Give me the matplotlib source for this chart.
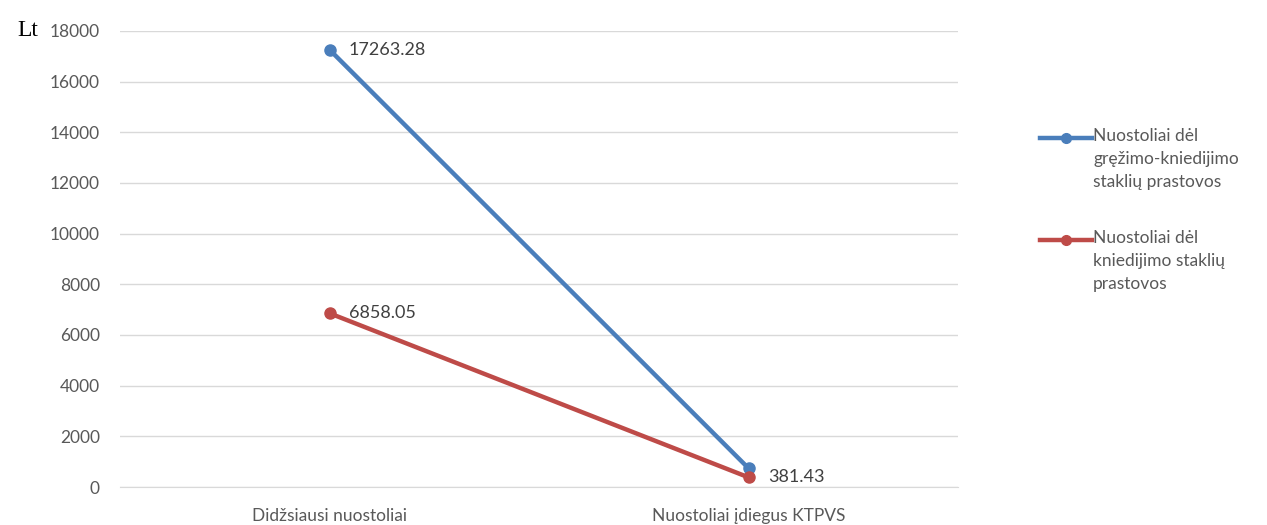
import matplotlib.pyplot as plt
from matplotlib.lines import Line2D

plt.rcParams['font.family'] = ['Lato', 'DejaVu Sans']

categories = ['Didžsiausi nuostoliai', 'Nuostoliai įdiegus KTPVS']
series_names = ['Nuostoliai dėl\ngręžimo-kniedijimo\nstaklių prastovos',
                'Nuostoliai dėl\nkniedijimo staklių\nprastovos']
drilling = [17263.28, 740]
riveting = [6858.05, 381.43]
# which points carry a data label (Excel only showed three)
drilling_labels = ['17263.28', None]
riveting_labels = ['6858.05', '381.43']
yticks = list(range(0, 18001, 2000))

colors = ['#4A7EBB', '#BE4B48']
text_gray = '#595959'
W, H = 1267, 525

fig = plt.figure(figsize=(W / 100, H / 100), dpi=100)
ax = fig.add_axes([120 / W, 1 - 487 / H, 838 / W, 456 / H])

x = list(range(len(categories)))
series = [drilling, riveting]
labels = [drilling_labels, riveting_labels]
for vals, labs, name, c in zip(series, labels, series_names, colors):
    ax.plot(x, vals, color=c, lw=3.2, marker='o', ms=8,
            solid_capstyle='round', zorder=3)
    for xi, v, lab in zip(x, vals, labs):
        if lab:
            ax.annotate(lab, (xi, v), xytext=(14, 0), textcoords='offset points',
                        va='center', ha='left', fontsize=13, color='#404040')

ax.set_xlim(-0.5, 1.5)
ax.set_ylim(0, 18000)
ax.set_yticks(yticks)
ax.set_xticks(x)
ax.set_xticklabels(categories)
ax.grid(axis='y', color='#D9D9D9', lw=1)
ax.set_axisbelow(True)
for s in ['top', 'right', 'left']:
    ax.spines[s].set_visible(False)
ax.spines['bottom'].set_color('#D9D9D9')
ax.tick_params(axis='both', length=0, labelsize=12.5, colors=text_gray)
ax.tick_params(axis='y', pad=14.5)
ax.tick_params(axis='x', pad=15)

fig.text(17 / W, 1 - 30 / H, 'Lt', family='Liberation Serif', fontsize=17,
         color='black', va='center')

# legend drawn by hand so the handle sits on the first text line
for i, (name, c) in enumerate(zip(series_names, colors)):
    yc = 1 - (138 + 102 * i) / H
    fig.add_artist(Line2D([1040 / W, 1092 / W], [yc, yc], color=c, lw=3.2,
                          transform=fig.transFigure))
    fig.add_artist(Line2D([1066 / W], [yc], color=c, marker='o', ms=7,
                          transform=fig.transFigure))
    fig.text(1093 / W, yc + 10 / H, name, fontsize=12.5, color=text_gray,
             va='top', ha='left', linespacing=1.55)

fig.savefig('out.png', dpi=100)
